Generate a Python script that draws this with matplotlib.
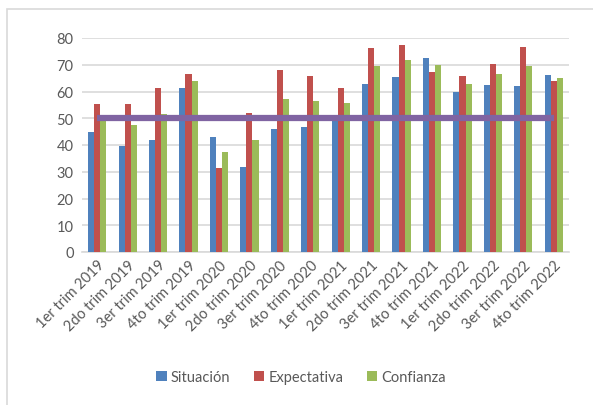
import matplotlib
matplotlib.use('Agg')
import matplotlib.pyplot as plt
import matplotlib.patches as patches
import numpy as np

plt.rcParams['font.family'] = ['Lato', 'DejaVu Sans']

categorias = ['1er trim 2019', '2do trim 2019', '3er trim 2019', '4to trim 2019',
              '1er trim 2020', '2do trim 2020', '3er trim 2020', '4to trim 2020',
              '1er trim 2021', '2do trim 2021', '3er trim 2021', '4to trim 2021',
              '1er trim 2022', '2do trim 2022', '3er trim 2022', '4to trim 2022']
situacion = [44.8, 39.8, 41.8, 61.2, 43.1, 31.8, 46.1, 46.7,
             50.0, 62.9, 65.6, 72.7, 59.7, 62.5, 61.9, 66.2]
expectativa = [55.2, 55.4, 61.4, 66.7, 31.3, 51.8, 67.9, 65.8,
               61.3, 76.4, 77.5, 67.3, 65.8, 70.4, 76.7, 64.1]
confianza = [49.8, 47.6, 51.7, 64.0, 37.3, 41.8, 57.1, 56.3,
             55.7, 69.6, 71.6, 69.9, 62.8, 66.6, 69.4, 65.2]
referencia = [50] * len(categorias)

gris = '#595959'
fig = plt.figure(figsize=(5.93, 4.06), dpi=100)
# marco del grafico
fig.patches.append(patches.Rectangle((7/593, -0.1), 1.2, 1 - 10/406 + 0.1,
                                     transform=fig.transFigure, fill=False,
                                     edgecolor='#D9D9D9', linewidth=1.2))

ax = fig.add_axes([82/593, 153/406, 487/593, 214/406])
x = np.arange(len(categorias))
w = 0.2
ax.bar(x - w, situacion, w, color='#4F81BD', label='Situación', zorder=3)
ax.bar(x, expectativa, w, color='#C0504D', label='Expectativa', zorder=3)
ax.bar(x + w, confianza, w, color='#9BBB59', label='Confianza', zorder=3)
ax.plot(x, referencia, color='#8064A2', linewidth=4.5, solid_capstyle='butt', zorder=4)

ax.set_xlim(-0.5, len(categorias) - 0.5)
ax.set_ylim(0, 80)
ax.set_yticks(range(0, 81, 10))
ax.grid(axis='y', color='#D9D9D9', linewidth=1.2, zorder=0)
for s in ['top', 'right', 'left']:
    ax.spines[s].set_visible(False)
ax.spines['bottom'].set_color('#D9D9D9')
ax.spines['bottom'].set_linewidth(1.2)
ax.tick_params(length=0, colors=gris, labelsize=10.5)
ax.tick_params(axis='y', pad=6)
ax.tick_params(axis='x', pad=4)
ax.set_xticks(x)
ax.set_xticklabels(categorias, rotation=45, ha='right', rotation_mode='anchor')

ax.legend(loc='center', bbox_to_anchor=(0.45, -0.585), ncol=3, frameon=False,
          fontsize=10.5, labelcolor=gris, handlelength=0.7, handleheight=0.7,
          handletextpad=0.3, columnspacing=1.6)

fig.savefig('out.png', dpi=100)
